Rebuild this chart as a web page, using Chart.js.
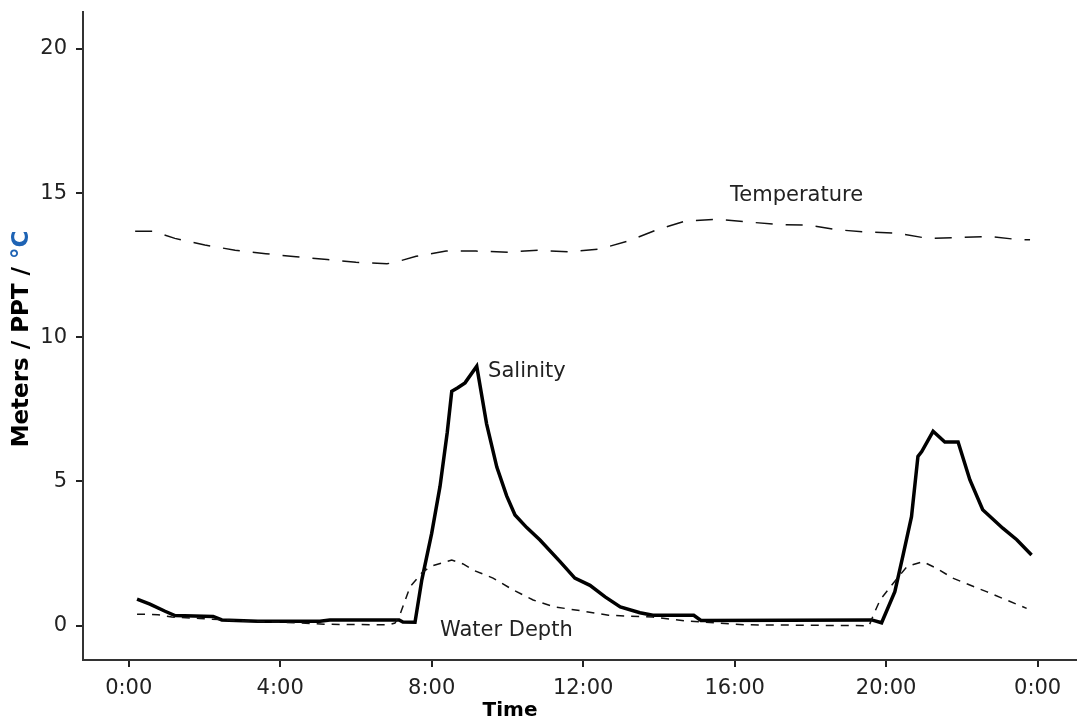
<!DOCTYPE html>
<html>
<head>
<meta charset="utf-8">
<script src="https://cdn.jsdelivr.net/npm/chart.js@4"></script>
<style>
  body { margin: 0; background: #fff; }
  #wrap { width: 1077px; height: 723px; }
</style>
</head>
<body>
<div id="wrap"><canvas id="tideChart" width="1077" height="723"></canvas></div>
<script>
// hours after midnight
const salinityHours = [0.22, 0.56, 0.96, 1.22, 2.23, 2.46, 3.41, 5.05, 5.31, 7.14, 7.24, 7.56, 7.74, 8.0, 8.22, 8.41, 8.53, 8.69, 8.88, 9.19, 9.45, 9.72, 9.98, 10.2, 10.51, 10.86, 11.39, 11.78, 12.18, 12.58, 12.98, 13.5, 13.84, 14.92, 15.11, 19.62, 19.88, 20.23, 20.44, 20.67, 20.84, 20.94, 21.24, 21.55, 21.9, 22.21, 22.55, 23.08, 23.45, 23.84];
const salinity = [0.92, 0.75, 0.5, 0.35, 0.32, 0.2, 0.15, 0.15, 0.2, 0.2, 0.13, 0.12, 1.59, 3.2, 4.83, 6.69, 8.13, 8.25, 8.42, 9.0, 7.0, 5.5, 4.5, 3.84, 3.4, 2.97, 2.22, 1.65, 1.4, 1.0, 0.65, 0.45, 0.36, 0.36, 0.18, 0.2, 0.1, 1.18, 2.4, 3.78, 5.87, 6.04, 6.74, 6.37, 6.37, 5.06, 4.02, 3.38, 2.98, 2.45];

const depthHours = [0.22, 0.77, 1.14, 1.88, 3.2, 4.52, 5.16, 6.87, 7.03, 7.16, 7.43, 7.74, 7.96, 8.53, 8.83, 9.09, 9.62, 10.15, 10.68, 11.21, 12.02, 12.67, 13.84, 14.74, 16.29, 19.55, 19.68, 19.84, 20.15, 20.55, 20.97, 21.33, 21.76, 22.21, 22.65, 23.18, 23.71];
const waterDepth = [0.4, 0.38, 0.3, 0.25, 0.15, 0.1, 0.05, 0.03, 0.09, 0.37, 1.35, 1.83, 2.05, 2.28, 2.14, 1.93, 1.65, 1.24, 0.89, 0.66, 0.5, 0.36, 0.3, 0.16, 0.03, 0.0, 0.42, 0.89, 1.41, 2.05, 2.22, 1.99, 1.65, 1.41, 1.18, 0.89, 0.6];

const tempHours = [0.17, 0.64, 1.22, 2.01, 2.81, 3.62, 4.42, 5.24, 6.0, 6.82, 7.03, 7.59, 8.38, 9.17, 10.01, 10.81, 11.62, 12.44, 13.21, 13.95, 14.69, 15.53, 16.35, 17.14, 17.94, 18.7, 19.49, 20.29, 21.1, 21.9, 22.74, 23.53, 23.8];
const temperature = [13.68, 13.68, 13.43, 13.2, 13.02, 12.9, 12.79, 12.7, 12.6, 12.55, 12.6, 12.81, 12.99, 12.99, 12.95, 13.02, 12.96, 13.06, 13.35, 13.73, 14.03, 14.09, 14.0, 13.91, 13.89, 13.73, 13.65, 13.61, 13.43, 13.46, 13.5, 13.38, 13.38];

const xTickHours = [0, 4, 8, 12, 16, 20, 24];
const xTickLabels = ["0:00", "4:00", "8:00", "12:00", "16:00", "20:00", "0:00"];
const yTicks = [0, 5, 10, 15, 20];

// series names written beside the lines: [text, hour, value]
const seriesLabels = [
  ["Temperature", 15.88, 14.92],
  ["Salinity", 9.49, 8.81],
  ["Water Depth", 8.22, -0.18],
];

const toPoints = (hours, values) => hours.map((h, i) => ({ x: h, y: values[i] }));

const FONT = "'DejaVu Sans', sans-serif";

const labelPlugin = {
  id: "labelPlugin",
  afterDraw(chart) {
    const ctx = chart.ctx;
    const xs = chart.scales.x;
    const ys = chart.scales.y;
    ctx.save();
    ctx.fillStyle = "#222";
    ctx.font = "21px " + FONT;
    ctx.textAlign = "left";
    ctx.textBaseline = "middle";
    seriesLabels.forEach(([text, h, v]) => {
      ctx.fillText(text, xs.getPixelForValue(h), ys.getPixelForValue(v));
    });

    // x title
    ctx.font = "bold 20px " + FONT;
    ctx.fillStyle = "#000";
    ctx.textAlign = "center";
    ctx.fillText("Time", 510, 711);

    // y title, with the degree sign part in blue
    ctx.translate(22, 339);
    ctx.rotate(-Math.PI / 2);
    ctx.font = "bold 23px " + FONT;
    const part1 = "Meters / PPT / ";
    const part2 = "°C";
    const w1 = ctx.measureText(part1).width;
    const w2 = ctx.measureText(part2).width;
    const start = -(w1 + w2) / 2;
    ctx.textAlign = "left";
    ctx.fillStyle = "#000";
    ctx.fillText(part1, start, 0);
    ctx.fillStyle = "#1e63b4";
    ctx.fillText(part2, start + w1, 0);
    ctx.restore();
  },
};

const ctx = document.getElementById("tideChart").getContext("2d");
const tideChart = new Chart(ctx, {
  type: "line",
  data: {
    datasets: [
      {
        label: "Temperature",
        data: toPoints(tempHours, temperature),
        borderColor: "#111",
        borderWidth: 1.5,
        borderDash: [17, 13],
        pointRadius: 0,
        tension: 0,
      },
      {
        label: "Water Depth",
        data: toPoints(depthHours, waterDepth),
        borderColor: "#111",
        borderWidth: 1.5,
        borderDash: [8, 7],
        pointRadius: 0,
        tension: 0,
      },
      {
        label: "Salinity",
        data: toPoints(salinityHours, salinity),
        borderColor: "#000",
        borderWidth: 3.5,
        pointRadius: 0,
        tension: 0,
      },
    ],
  },
  options: {
    responsive: false,
    animation: false,
    layout: { padding: { top: 12, right: 0, left: 0, bottom: 0 } },
    plugins: {
      legend: { display: false },
      tooltip: { enabled: false },
    },
    scales: {
      x: {
        type: "linear",
        min: -1.207,
        max: 25.04,
        afterFit: (scale) => { scale.height = 63; },
        afterBuildTicks: (scale) => { scale.ticks = xTickHours.map((v) => ({ value: v })); },
        ticks: {
          callback: (value, index) => xTickLabels[index],
          color: "#222",
          font: { family: FONT, size: 21 },
          padding: 9,
          maxRotation: 0,
          autoSkip: false,
        },
        grid: { display: true, drawOnChartArea: false, drawTicks: true, tickLength: 7, color: "#222", lineWidth: 2 },
        border: { display: true, color: "#333", width: 2 },
      },
      y: {
        min: -1.19,
        max: 21.28,
        afterFit: (scale) => {
          scale.width = 83;
          // let the layout padding alone decide where the axis starts
          scale.paddingTop = 0;
          scale.paddingBottom = 0;
        },
        afterBuildTicks: (scale) => { scale.ticks = yTicks.map((v) => ({ value: v })); },
        ticks: {
          color: "#222",
          font: { family: FONT, size: 21 },
          padding: 9,
        },
        grid: { display: true, drawOnChartArea: false, drawTicks: true, tickLength: 7, color: "#222", lineWidth: 2 },
        border: { display: true, color: "#333", width: 2 },
      },
    },
  },
  plugins: [labelPlugin],
});
</script>
</body>
</html>
